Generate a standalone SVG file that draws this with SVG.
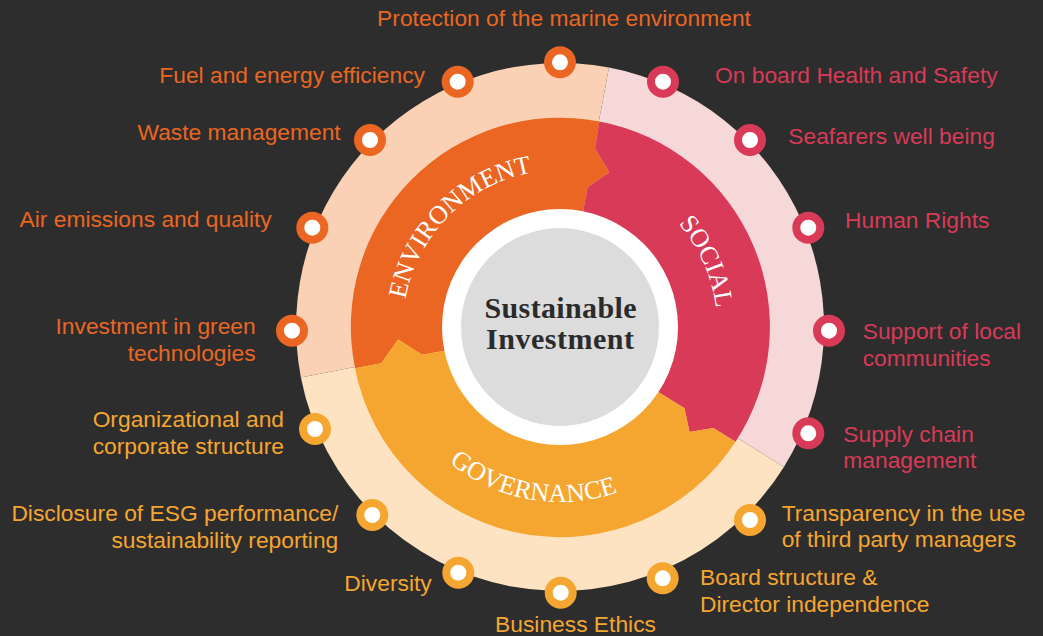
<svg xmlns="http://www.w3.org/2000/svg" width="1043" height="636" viewBox="0 0 1043 636">
  <defs>
    <style>
      .lbl { font-family: "Liberation Sans", Arial, Helvetica, sans-serif; font-size: 22.8px; }
      .env { fill: #ea6622; }
      .soc { fill: #d93a57; }
      .gov { fill: #f5a630; }
      .dot { fill: #ffffff; stroke-width: 8; }
      .dot-env { stroke: #ea6622; }
      .dot-soc { stroke: #d93a57; }
      .dot-gov { stroke: #f5a630; }
      .arc { font-family: "Liberation Serif", "Times New Roman", serif; font-size: 26px; fill: #ffffff; }
      .core { font-family: "Liberation Serif", "Times New Roman", serif; font-size: 30px; font-weight: bold; fill: #2b2b2b; }
    </style>
    <path id="p-env" d="M412.5,380.7 A157,157 0 0 1 613.7,179.5"/>
    <path id="p-soc" d="M562.7,170 A157,157 0 0 1 678.5,430"/>
    <path id="p-gov" d="M391,372.3 A175,175 0 0 0 703.4,427.4"/>
  </defs>

  <rect width="1043" height="636" fill="#2d2d2d"/>

  <!-- outer light ring sectors -->
  <g id="outer-ring">
    <path d="M560,327 L300.9,377.4 A264,264 0 0 1 609,67.6 Z" fill="#fbd1b5"/>
    <path d="M560,327 L609,67.6 A264,264 0 0 1 783.9,466.9 Z" fill="#f6d8d8"/>
    <path d="M560,327 L783.9,466.9 A264,264 0 0 1 300.9,377.4 Z" fill="#fde3c1"/>
  </g>

  <!-- interlocking pillar ring -->
  <g id="environment">
    <path d="M560,327 L444.7,350.7 L422.3,354.7 L398.1,339.6 L381.2,363.3 L355,368.2 A209,209 0 0 1 599.3,121.5 L595,148.5 L609.3,172.3 L587.6,187.2 L583.3,210 Z" fill="#ea6622"/>
  </g>
  <g id="social">
    <path d="M560,327 L583.3,210 L587.6,187.2 L609.3,172.3 L595,148.5 L599.3,121.5 A209,209 0 0 1 735.5,441.8 L713.3,428 L689.5,432 L684.5,408.3 L659.5,392.7 Z" fill="#d93a57"/>
  </g>
  <g id="governance">
    <path d="M560,327 L659.5,392.7 L684.5,408.3 L689.5,432 L713.3,428 L735.5,441.8 A209,209 0 0 1 355,368.2 L381.2,363.3 L398.1,339.6 L422.3,354.7 L444.7,350.7 Z" fill="#f5a630"/>
  </g>

  <!-- hub -->
  <g id="hub">
    <circle cx="560" cy="327" r="118" fill="#ffffff"/>
    <circle cx="560" cy="327" r="99" fill="#dcdcdc"/>
    <text class="core" x="560.5" y="318" text-anchor="middle" textLength="152" lengthAdjust="spacing">Sustainable</text>
    <text class="core" x="560" y="349" text-anchor="middle" textLength="148" lengthAdjust="spacing">Investment</text>
  </g>

  <!-- pillar titles -->
  <g id="pillar-titles">
    <text class="arc"><textPath href="#p-env" startOffset="50%" text-anchor="middle">ENVIRONMENT</textPath></text>
    <text class="arc"><textPath href="#p-soc" startOffset="50%" text-anchor="middle">SOCIAL</textPath></text>
    <text class="arc"><textPath href="#p-gov" startOffset="50%" text-anchor="middle">GOVERNANCE</textPath></text>
  </g>

  <!-- environment topics -->
  <g id="env-protection">
    <circle class="dot dot-env" cx="560" cy="62.3" r="12"/>
    <text class="lbl env" x="564" y="25.5" text-anchor="middle">Protection of the marine environment</text>
  </g>
  <g id="env-fuel">
    <circle class="dot dot-env" cx="457.7" cy="81.7" r="12"/>
    <text class="lbl env" x="425" y="82.5" text-anchor="end">Fuel and energy efficiency</text>
  </g>
  <g id="env-waste">
    <circle class="dot dot-env" cx="370" cy="140" r="12"/>
    <text class="lbl env" x="340.7" y="139.5" text-anchor="end">Waste management</text>
  </g>
  <g id="env-air">
    <circle class="dot dot-env" cx="312.3" cy="227.7" r="12"/>
    <text class="lbl env" x="271.7" y="226.7" text-anchor="end">Air emissions and quality</text>
  </g>
  <g id="env-green">
    <circle class="dot dot-env" cx="292" cy="330.7" r="12"/>
    <text class="lbl env" text-anchor="end"><tspan x="255.7" y="334.3">Investment in green</tspan><tspan x="255.7" y="361.3">technologies</tspan></text>
  </g>

  <!-- social topics -->
  <g id="soc-health">
    <circle class="dot dot-soc" cx="663" cy="81.7" r="12"/>
    <text class="lbl soc" x="715" y="82.5">On board Health and Safety</text>
  </g>
  <g id="soc-seafarers">
    <circle class="dot dot-soc" cx="750" cy="140" r="12"/>
    <text class="lbl soc" x="788.3" y="144">Seafarers well being</text>
  </g>
  <g id="soc-rights">
    <circle class="dot dot-soc" cx="808.3" cy="227.7" r="12"/>
    <text class="lbl soc" x="845" y="228.3">Human Rights</text>
  </g>
  <g id="soc-communities">
    <circle class="dot dot-soc" cx="829" cy="330.7" r="12"/>
    <text class="lbl soc"><tspan x="862.7" y="339">Support of local</tspan><tspan x="862.7" y="366">communities</tspan></text>
  </g>
  <g id="soc-supply">
    <circle class="dot dot-soc" cx="808.3" cy="433.3" r="12"/>
    <text class="lbl soc"><tspan x="843.3" y="441.7">Supply chain</tspan><tspan x="843.3" y="468.3">management</tspan></text>
  </g>

  <!-- governance topics -->
  <g id="gov-transparency">
    <circle class="dot dot-gov" cx="750" cy="520" r="12"/>
    <text class="lbl gov"><tspan x="781.7" y="520.7">Transparency in the use</tspan><tspan x="781.7" y="547.3">of third party managers</tspan></text>
  </g>
  <g id="gov-board">
    <circle class="dot dot-gov" cx="662.7" cy="578.3" r="12"/>
    <text class="lbl gov"><tspan x="700" y="585">Board structure &amp;</tspan><tspan x="700" y="612.3">Director independence</tspan></text>
  </g>
  <g id="gov-ethics">
    <circle class="dot dot-gov" cx="560.7" cy="592.7" r="12"/>
    <text class="lbl gov" x="575.5" y="632" text-anchor="middle">Business Ethics</text>
  </g>
  <g id="gov-diversity">
    <circle class="dot dot-gov" cx="458.3" cy="572.7" r="12"/>
    <text class="lbl gov" x="431.7" y="590.7" text-anchor="end">Diversity</text>
  </g>
  <g id="gov-disclosure">
    <circle class="dot dot-gov" cx="372.3" cy="515" r="12"/>
    <text class="lbl gov" text-anchor="end"><tspan x="338.3" y="520.7">Disclosure of ESG performance/</tspan><tspan x="338.3" y="547.7">sustainability reporting</tspan></text>
  </g>
  <g id="gov-structure">
    <circle class="dot dot-gov" cx="315" cy="429" r="12"/>
    <text class="lbl gov" text-anchor="end"><tspan x="284" y="426.7">Organizational and</tspan><tspan x="284" y="454">corporate structure</tspan></text>
  </g>
</svg>
